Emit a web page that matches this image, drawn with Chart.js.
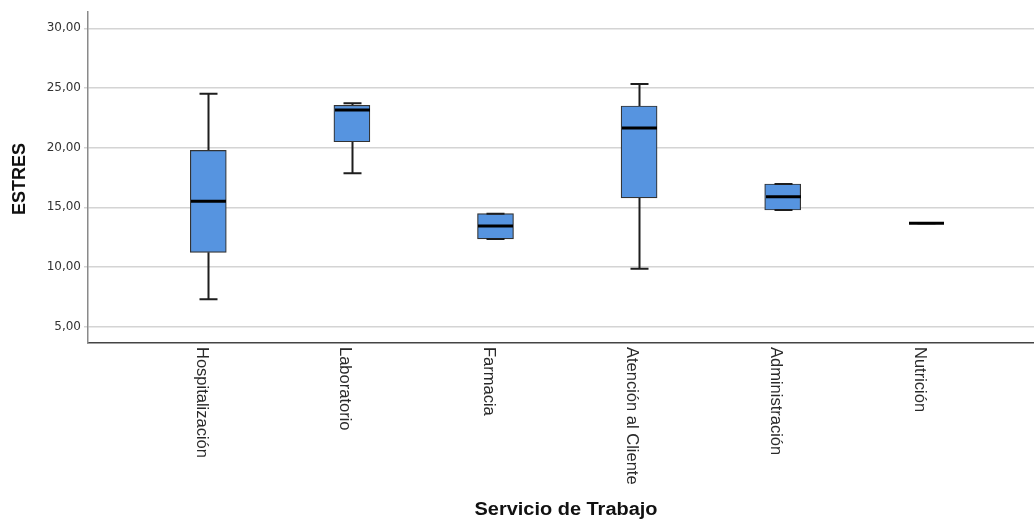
<!DOCTYPE html>
<html>
<head>
<meta charset="utf-8">
<script src="https://cdn.jsdelivr.net/npm/chart.js@4.4.1/dist/chart.umd.min.js"></script>
<style>
  html, body { margin: 0; padding: 0; background: #ffffff; }
  #wrap { width: 1034px; height: 519px; }
</style>
</head>
<body>
<div id="wrap"><canvas id="c" width="1034" height="519"></canvas></div>
<script>
// ---- Data ----
const categories = ['Hospitalización', 'Laboratorio', 'Farmacia', 'Atención al Cliente', 'Administración', 'Nutrición'];
const whiskerMin = [7.28, 17.85, 12.34, 9.85, 14.77, 13.65];
const q1         = [11.22, 20.49, 12.34, 15.78, 14.77, 13.65];
const median     = [15.50, 23.15, 13.43, 21.64, 15.88, 13.65];
const q3         = [19.77, 23.55, 14.46, 23.49, 16.95, 13.65];
const whiskerMax = [24.52, 23.71, 14.46, 25.33, 16.95, 13.65];
const yTicks = [5, 10, 15, 20, 25, 30];
const yTitle = 'ESTRES';
const xTitle = 'Servicio de Trabajo';

const positions = categories.map((c, i) => i + 1);

const boxPlugin = {
  id: 'boxParts',
  beforeDatasetsDraw(chart) {
    const ctx = chart.ctx, xs = chart.scales.x, ys = chart.scales.y;
    ctx.save();
    ctx.strokeStyle = '#1e1e1e';
    ctx.lineWidth = 2;
    positions.forEach((p, i) => {
      const cx = Math.round(xs.getPixelForValue(p)) + 0.5;
      const yMin = ys.getPixelForValue(whiskerMin[i]);
      const yMax = ys.getPixelForValue(whiskerMax[i]);
      const yQ1 = ys.getPixelForValue(q1[i]);
      const yQ3 = ys.getPixelForValue(q3[i]);
      ctx.beginPath();
      ctx.moveTo(cx, yQ3); ctx.lineTo(cx, yMax);
      ctx.moveTo(cx, yQ1); ctx.lineTo(cx, yMin);
      ctx.stroke();
    });
    ctx.restore();
  },
  afterDatasetsDraw(chart) {
    const ctx = chart.ctx, xs = chart.scales.x, ys = chart.scales.y;
    ctx.save();
    positions.forEach((p, i) => {
      const cx = Math.round(xs.getPixelForValue(p)) + 0.5;
      const yMin = ys.getPixelForValue(whiskerMin[i]);
      const yMax = ys.getPixelForValue(whiskerMax[i]);
      const yMed = ys.getPixelForValue(median[i]);
      ctx.strokeStyle = '#1e1e1e';
      ctx.lineWidth = 2;
      ctx.beginPath();
      ctx.moveTo(cx - 9, yMax); ctx.lineTo(cx + 9, yMax);
      ctx.moveTo(cx - 9, yMin); ctx.lineTo(cx + 9, yMin);
      ctx.stroke();
      ctx.strokeStyle = '#000000';
      ctx.lineWidth = 3;
      ctx.beginPath();
      ctx.moveTo(cx - 17.5, yMed); ctx.lineTo(cx + 17.5, yMed);
      ctx.stroke();
    });
    ctx.restore();
  },
  afterDraw(chart) {
    const ctx = chart.ctx, xs = chart.scales.x, ca = chart.chartArea;
    ctx.save();
    ctx.fillStyle = '#2a2a2a';
    ctx.font = '16.5px "Liberation Sans", Arial, sans-serif';
    ctx.textAlign = 'left';
    ctx.textBaseline = 'alphabetic';
    positions.forEach((p, i) => {
      const px = xs.getPixelForValue(p);
      ctx.save();
      ctx.translate(px - 11.6, ca.bottom + 4);
      ctx.rotate(Math.PI / 2);
      ctx.fillText(categories[i], 0, 0);
      ctx.restore();
    });
    ctx.fillStyle = '#111111';
    ctx.font = 'bold 18px "Liberation Sans", Arial, sans-serif';
    ctx.textAlign = 'center';
    ctx.save();
    ctx.translate(566, 515);
    const w = ctx.measureText(xTitle).width;
    ctx.scale(183 / w, 1);
    ctx.fillText(xTitle, 0, 0);
    ctx.restore();
    ctx.save();
    ctx.font = 'bold 19px "Liberation Sans", Arial, sans-serif';
    ctx.textBaseline = 'middle';
    ctx.translate(19.5, 179);
    ctx.rotate(-Math.PI / 2);
    const wy = ctx.measureText(yTitle).width;
    ctx.scale(72 / wy, 1);
    ctx.fillText(yTitle, 0, 0);
    ctx.restore();
    ctx.restore();
  }
};

new Chart(document.getElementById('c'), {
  type: 'bar',
  data: {
    datasets: [{
      data: positions.map((p, i) => ({ x: p, y: [q1[i], q3[i]] })),
      backgroundColor: '#5694e0',
      borderColor: '#333333',
      borderWidth: 1.2,
      borderSkipped: false,
      barThickness: 36
    }]
  },
  options: {
    responsive: false,
    animation: false,
    devicePixelRatio: 1,
    layout: { padding: { top: 12, right: 0, bottom: 0, left: 0 } },
    plugins: { legend: { display: false }, tooltip: { enabled: false }, title: { display: false } },
    scales: {
      x: {
        type: 'linear',
        offset: false,
        min: 0.1623,
        max: 6.75,
        ticks: { display: false },
        grid: { display: false, drawTicks: false, offset: false },
        border: { display: true, color: '#444444', width: 1.5 },
        afterFit(s) { s.height = 176; }
      },
      y: {
        type: 'linear',
        min: 3.62,
        max: 31.37,
        afterBuildTicks(s) { s.ticks = yTicks.map(v => ({ value: v })); },
        ticks: {
          color: '#333333',
          font: { family: '"DejaVu Sans", sans-serif', size: 12 },
          padding: 3,
          callback: v => v.toFixed(2).replace('.', ',')
        },
        grid: { color: '#d4d4d4', lineWidth: 1.5, tickLength: 4, drawTicks: true },
        border: { display: true, color: '#8a8a8a', width: 1.5 },
        afterFit(s) { s.width = 88; }
      }
    }
  },
  plugins: [boxPlugin]
});
</script>
</body>
</html>
